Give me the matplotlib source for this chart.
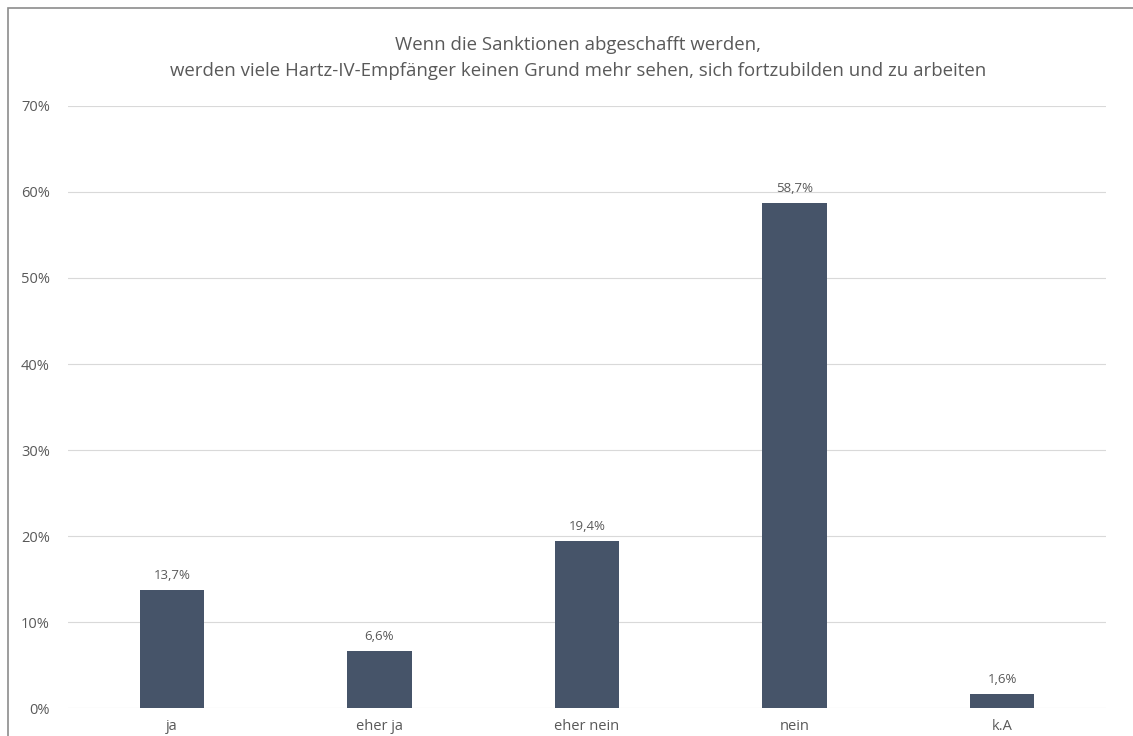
import numpy as np
from matplotlib import pyplot as plt
from matplotlib.patches import Rectangle

plt.rcParams['font.family'] = ['Open Sans', 'DejaVu Sans']

categories = ["ja", "eher ja", "eher nein", "nein", "k.A"]
values = [13.7, 6.6, 19.4, 58.7, 1.6]
labels = ["13,7%", "6,6%", "19,4%", "58,7%", "1,6%"]
yticks = [0, 10, 20, 30, 40, 50, 60, 70]

grey = "#595959"
bar_color = "#465469"

fig = plt.figure(figsize=(11.33, 7.36), dpi=100)
ax = fig.add_axes([0.060, 0.038, 0.916, 0.818])

x = np.arange(len(categories))
ax.bar(x, values, width=0.31, color=bar_color, zorder=3)
for xi, v, lab in zip(x, values, labels):
    ax.text(xi, v + 1.0, lab, ha="center", va="bottom", fontsize=9.5, color=grey)

ax.set_xlim(-0.5, len(categories) - 0.5)
ax.set_ylim(0, 70)
ax.set_yticks(yticks)
ax.set_yticklabels([str(t) + "%" for t in yticks], fontsize=10.5, color=grey)
ax.set_xticks(x)
ax.set_xticklabels(categories, fontsize=10.5, color=grey)
ax.tick_params(axis="both", length=0)
ax.tick_params(axis="y", pad=13)
ax.tick_params(axis="x", pad=8)
ax.grid(axis="y", color="#d9d9d9", linewidth=0.8, zorder=0)
for s in ax.spines.values():
    s.set_visible(False)

fig.text(0.51, 0.921, "Wenn die Sanktionen abgeschafft werden,\nwerden viele Hartz-IV-Empfänger keinen Grund mehr sehen, sich fortzubilden und zu arbeiten",
         ha="center", va="center", fontsize=13.4, color=grey, linespacing=1.6)

fig.patches.append(Rectangle((8 / 1133, -0.1), 1.2, 1.1 - 8 / 736, transform=fig.transFigure,
                             fill=False, edgecolor="#8c8c8c", linewidth=1.2))

fig.savefig("out.png", dpi=100)
